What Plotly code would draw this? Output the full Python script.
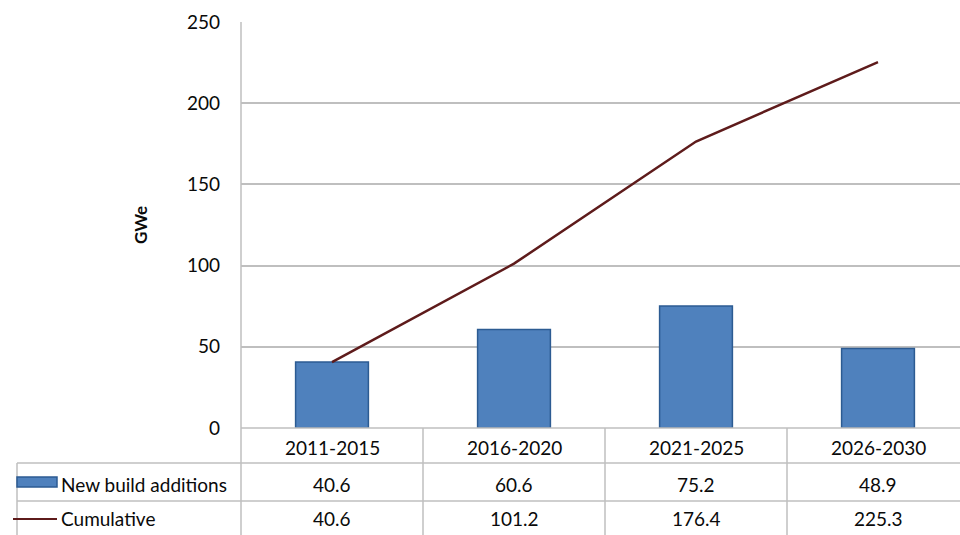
import plotly.graph_objects as go

categories = ["2011-2015", "2016-2020", "2021-2025", "2026-2030"]
new_build = [40.6, 60.6, 75.2, 48.9]
cumulative = [40.6, 101.2, 176.4, 225.3]
series_names = ["New build additions", "Cumulative"]
y_ticks = [0, 50, 100, 150, 200, 250]

W, H = 960, 535
# pixel geometry
x_left = 241.0
col_w = 182.0
y_top_px, y_bot_px = 22.0, 428.0
row_lines_px = [463.0, 501.0]

def px(x):
    return x / W

def py(y):
    return 1 - y / H

FONT = "Lato"
GRID = "#bfbfbf"
TXT = "#0a0a0a"

fig = go.Figure()
fig.add_trace(go.Bar(
    x=list(range(len(categories))), y=new_build, name=series_names[0],
    width=0.4, marker=dict(color="#4f81bd", line=dict(color="#2c5b92", width=1.5)),
    showlegend=False))
fig.add_trace(go.Scatter(
    x=list(range(len(categories))), y=cumulative, name=series_names[1], mode="lines",
    line=dict(color="#5e1b1b", width=2.5), showlegend=False))

x_range_max = -0.5 + (W - x_left) / col_w

fig.update_layout(
    width=W, height=H, margin=dict(l=0, r=0, t=0, b=0, autoexpand=False),
    paper_bgcolor="white", plot_bgcolor="white",
    font=dict(family=FONT, size=19, color=TXT),
    xaxis=dict(domain=[px(x_left), 1.0], range=[-0.5, x_range_max], automargin=False,
               showticklabels=False, showgrid=False, zeroline=False, showline=False,
               fixedrange=True),
    yaxis=dict(domain=[py(y_bot_px), py(y_top_px)], range=[0, 250], automargin=False,
               tickvals=y_ticks, ticktext=[str(v) for v in y_ticks],
               showgrid=True, gridcolor=GRID, gridwidth=1.5,
               zeroline=False, showline=False, ticks="", ticklabelstandoff=20,
               tickfont=dict(family=FONT, size=19, color=TXT)),
    bargap=0.6,
)

shapes = []
line_style = dict(color=GRID, width=1.5)
# y axis line extended through the table
shapes.append(dict(type="line", xref="paper", yref="paper",
                   x0=px(x_left), x1=px(x_left), y0=py(y_top_px), y1=0, line=line_style))
# bottom axis line / top of table
shapes.append(dict(type="line", xref="paper", yref="paper",
                   x0=px(x_left), x1=1, y0=py(y_bot_px), y1=py(y_bot_px), line=line_style))
# row lines
for ry in row_lines_px:
    shapes.append(dict(type="line", xref="paper", yref="paper",
                       x0=px(17), x1=1, y0=py(ry), y1=py(ry), line=line_style))
# left border of legend column
shapes.append(dict(type="line", xref="paper", yref="paper",
                   x0=px(17), x1=px(17), y0=py(row_lines_px[0]), y1=0, line=line_style))
# column separators
for i in range(1, len(categories)):
    xx = x_left + i * col_w
    shapes.append(dict(type="line", xref="paper", yref="paper",
                       x0=px(xx), x1=px(xx), y0=py(y_bot_px), y1=0, line=line_style))
# legend keys
shapes.append(dict(type="rect", xref="paper", yref="paper",
                   x0=px(17), x1=px(57), y0=py(487), y1=py(477),
                   fillcolor="#4f81bd", line=dict(color="#2c5b92", width=1.5)))
shapes.append(dict(type="line", xref="paper", yref="paper",
                   x0=px(13), x1=px(57), y0=py(519), y1=py(519),
                   line=dict(color="#5e1b1b", width=2)))
fig.update_layout(shapes=shapes)

ann = []
row_y = [447, 484, 518]
for i, c in enumerate(categories):
    cx = x_left + (i + 0.5) * col_w
    ann.append(dict(x=px(cx), y=py(row_y[0]), xref="paper", yref="paper", text=c,
                    showarrow=False, xanchor="center", yanchor="middle"))
    ann.append(dict(x=px(cx), y=py(row_y[1]), xref="paper", yref="paper", text=f"{new_build[i]}",
                    showarrow=False, xanchor="center", yanchor="middle"))
    ann.append(dict(x=px(cx), y=py(row_y[2]), xref="paper", yref="paper", text=f"{cumulative[i]}",
                    showarrow=False, xanchor="center", yanchor="middle"))
for name, ry in zip(series_names, row_y[1:]):
    ann.append(dict(x=px(59), y=py(ry), xref="paper", yref="paper", text=name,
                    showarrow=False, xanchor="left", yanchor="middle"))
ann.append(dict(x=px(141), y=py(225), xref="paper", yref="paper", text="<b>GWe</b>",
                showarrow=False, textangle=-90, xanchor="center", yanchor="middle",
                font=dict(family=FONT, size=17, color=TXT)))
fig.update_layout(annotations=ann)

fig.write_html("out.html")
